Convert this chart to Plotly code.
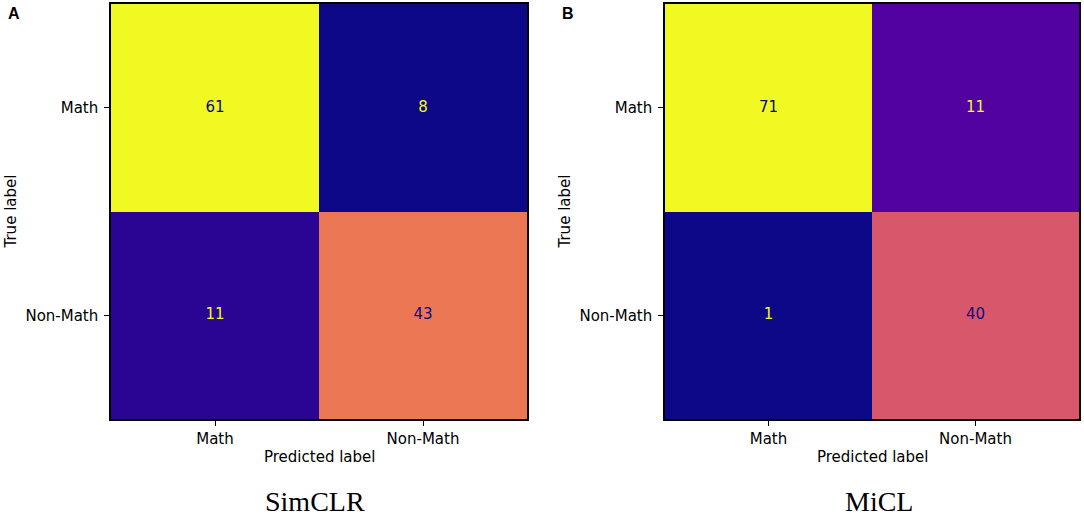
import plotly.graph_objects as go

# confusion matrices: rows = true label, columns = predicted label
classes = ["Math", "Non-Math"]
simclr = [[61, 8], [11, 43]]
micl = [[71, 11], [1, 40]]
panel_titles = ["SimCLR", "MiCL"]
panel_letters = ["A", "B"]

W, H = 1084, 521
DARK = "#0d0887"    # plasma(0)
LIGHT = "#f0f921"   # plasma(1)
TICK_FONT = dict(family="DejaVu Sans", size=15, color="black")

# pixel positions of each panel's plot box (left, right), shared top/bottom
boxes = [(111, 527), (665, 1079)]
top, bottom = 4, 419


def note(x, y, text, **kw):
    # place a text centred on a pixel position (from top-left corner)
    fig.add_annotation(x=x / W, y=1 - y / H, xref="paper", yref="paper",
                       xanchor="center", yanchor="middle",
                       text=text, showarrow=False, **kw)


fig = go.Figure()

for i, (mat, title, letter) in enumerate(zip([simclr, micl], panel_titles, panel_letters)):
    xa = "x" if i == 0 else "x2"
    ya = "y" if i == 0 else "y2"

    fig.add_trace(go.Heatmap(
        x=classes, y=classes, z=mat,
        colorscale="Plasma", showscale=False,
        xaxis=xa, yaxis=ya, hoverinfo="skip",
    ))

    # cell numbers, coloured the way sklearn's ConfusionMatrixDisplay does it
    flat = [v for row in mat for v in row]
    thresh = (max(flat) + min(flat)) / 2
    xs, ys, txt, cols = [], [], [], []
    for r, true_lab in enumerate(classes):
        for c, pred_lab in enumerate(classes):
            v = mat[r][c]
            xs.append(pred_lab)
            ys.append(true_lab)
            txt.append(str(v))
            cols.append(DARK if v > thresh else LIGHT)
    fig.add_trace(go.Scatter(
        x=xs, y=ys, text=txt, mode="text",
        textfont=dict(family="DejaVu Sans", size=15, color=cols),
        xaxis=xa, yaxis=ya, showlegend=False, hoverinfo="skip",
    ))

    left, right = boxes[i]
    cx = (left + right) / 2
    cy = (top + bottom) / 2

    note(cx, 457, "Predicted label",
         font=dict(family="DejaVu Sans", size=15, color="black"))
    note(left - 101, cy, "True label", textangle=-90,
         font=dict(family="DejaVu Sans", size=15, color="black"))
    note(cx + (-4 if i == 0 else 7), 501, title,
         font=dict(family="Liberation Serif", size=28, color="black"))
    note(left - 97, 13, "<b>" + letter + "</b>",
         font=dict(family="Liberation Sans", size=16, color="black"))

axis_common = dict(
    type="category",
    showline=True, mirror=True, linecolor="black", linewidth=1.5,
    ticks="outside", ticklen=5, tickwidth=1, tickcolor="black",
    tickfont=TICK_FONT, showgrid=False, zeroline=False,
)

fig.update_layout(
    width=W, height=H,
    margin=dict(l=0, r=0, t=0, b=0),
    paper_bgcolor="white", plot_bgcolor="white",
    showlegend=False,
    xaxis=dict(domain=[boxes[0][0] / W, boxes[0][1] / W], range=[-0.5, 1.5],
               anchor="y", **axis_common),
    yaxis=dict(domain=[1 - bottom / H, 1 - top / H], range=[1.5, -0.5],
               anchor="x", ticklabelstandoff=3, **axis_common),
    xaxis2=dict(domain=[boxes[1][0] / W, boxes[1][1] / W], range=[-0.5, 1.5],
                anchor="y2", **axis_common),
    yaxis2=dict(domain=[1 - bottom / H, 1 - top / H], range=[1.5, -0.5],
                anchor="x2", ticklabelstandoff=3, **axis_common),
)

fig.write_html("out.html",
               config={"displayModeBar": False},
               post_script="document.body.style.margin='0';"
                           "document.body.style.overflow='hidden';")
